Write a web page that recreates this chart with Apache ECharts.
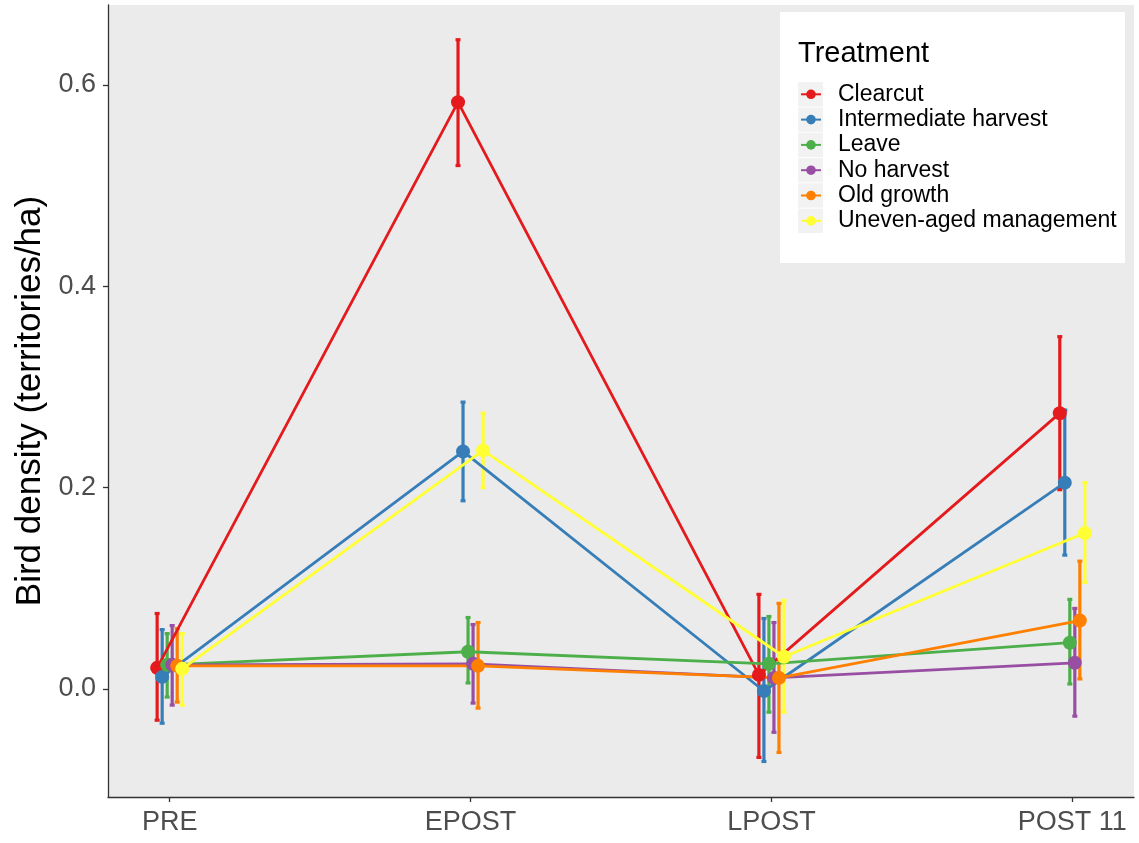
<!DOCTYPE html>
<html><head><meta charset="utf-8">
<script src="https://cdn.jsdelivr.net/npm/echarts@6/dist/echarts.min.js"></script>
<style>html,body{margin:0;padding:0;background:#fff}#c{width:1139px;height:843px}</style>
</head><body><div id="c"></div>
<script>
const periods = ['PRE', 'EPOST', 'LPOST', 'POST 11'];
const treatments = ['Clearcut', 'Intermediate harvest', 'Leave', 'No harvest', 'Old growth', 'Uneven-aged management'];
const colors = ['#E41A1C', '#377EB8', '#4DAF4A', '#984EA3', '#FF7F00', '#FFFF33'];
const yTicks = [0, 0.2, 0.4, 0.6];

const clearcutMean = [0.021, 0.583, 0.014, 0.274];
const clearcutLow  = [-0.031, 0.520, -0.068, 0.198];
const clearcutHigh = [0.075, 0.645, 0.094, 0.350];

const intermediateMean = [0.012, 0.236, -0.002, 0.205];
const intermediateLow  = [-0.034, 0.187, -0.072, 0.133];
const intermediateHigh = [0.059, 0.285, 0.070, 0.277];

const leaveMean = [0.024, 0.037, 0.025, 0.046];
const leaveLow  = [-0.008, 0.006, -0.023, 0.005];
const leaveHigh = [0.055, 0.071, 0.072, 0.089];

const noHarvestMean = [0.024, 0.025, 0.011, 0.026];
const noHarvestLow  = [-0.016, -0.014, -0.043, -0.027];
const noHarvestHigh = [0.063, 0.064, 0.066, 0.080];

const oldGrowthMean = [0.023, 0.023, 0.011, 0.068];
const oldGrowthLow  = [-0.013, -0.019, -0.063, 0.010];
const oldGrowthHigh = [0.060, 0.066, 0.085, 0.127];

const unevenMean = [0.020, 0.237, 0.032, 0.155];
const unevenLow  = [-0.016, 0.200, -0.023, 0.106];
const unevenHigh = [0.055, 0.274, 0.088, 0.205];

const means = [clearcutMean, intermediateMean, leaveMean, noHarvestMean, oldGrowthMean, unevenMean];
const lows  = [clearcutLow, intermediateLow, leaveLow, noHarvestLow, oldGrowthLow, unevenLow];
const highs = [clearcutHigh, intermediateHigh, leaveHigh, noHarvestHigh, oldGrowthHigh, unevenHigh];

const FONT = '"Liberation Sans", Arial, sans-serif';
const dodgeWidth = 0.1;
const n = treatments.length;
const offset = i => (i - (n - 1) / 2) * dodgeWidth / n;

const series = [];
treatments.forEach((t, i) => {
  const col = colors[i];
  series.push({
    type: 'custom',
    name: t + ' error',
    z: 2,
    silent: true,
    encode: { x: 0, y: [1, 2] },
    data: periods.map((p, k) => [k + 1 + offset(i), lows[i][k], highs[i][k]]),
    renderItem: (params, api) => {
      const x = api.value(0);
      const a = api.coord([x, api.value(1)]);
      const b = api.coord([x, api.value(2)]);
      const c = 2.5;
      const st = { stroke: col, lineWidth: 3.2 };
      return { type: 'group', children: [
        { type: 'line', shape: { x1: a[0], y1: a[1], x2: b[0], y2: b[1] }, style: st },
        { type: 'line', shape: { x1: a[0] - c, y1: a[1], x2: a[0] + c, y2: a[1] }, style: st },
        { type: 'line', shape: { x1: b[0] - c, y1: b[1], x2: b[0] + c, y2: b[1] }, style: st }
      ]};
    }
  });
});
treatments.forEach((t, i) => {
  series.push({
    type: 'line',
    name: t,
    z: 3,
    color: colors[i],
    symbol: 'circle',
    symbolSize: 14,
    showSymbol: true,
    lineStyle: { width: 2.8, color: colors[i] },
    itemStyle: { color: colors[i] },
    emphasis: { disabled: true },
    data: periods.map((p, k) => [k + 1 + offset(i), means[i][k]])
  });
});

const rowStart = 94.3, rowStep = 25.3;
const graphics = [
  { type: 'rect', z: 3, z2: 0, shape: { x: 780, y: 12, width: 345, height: 251 }, style: { fill: '#FFFFFF' } },
  { type: 'text', z: 4, x: 798, y: 53.5, style: { text: 'Treatment', font: '29px ' + FONT, fill: '#000', textVerticalAlign: 'middle' } }
];
treatments.forEach((t, i) => {
  graphics.push({ type: 'rect', z: 3, z2: 1,
    shape: { x: 798, y: rowStart + rowStep * i - 12.2, width: 25, height: 24.4 },
    style: { fill: '#F2F2F2' } });
});

const chart = echarts.init(document.getElementById('c'), null, { renderer: 'canvas' });
chart.setOption({
  animation: false,
  backgroundColor: '#FFFFFF',
  grid: { left: 108, right: 5, top: 5, bottom: 46, show: true, backgroundColor: '#EBEBEB', borderWidth: 0 },
  xAxis: {
    type: 'value', min: 0.795, max: 4.205,
    axisLine: { show: true, onZero: false, lineStyle: { color: '#333333', width: 1.3 } },
    axisTick: { show: true, customValues: [1, 2, 3, 4], length: 5, lineStyle: { color: '#333333', width: 1.3 } },
    axisLabel: { customValues: [1, 2, 3, 4], formatter: v => periods[Math.round(v) - 1], fontSize: 27, fontFamily: FONT, color: '#4D4D4D', margin: 12 },
    splitLine: { show: false }
  },
  yAxis: {
    type: 'value', min: -0.1073, max: 0.6795,
    name: 'Bird density (territories/ha)', nameLocation: 'middle', nameGap: 60,
    nameTextStyle: { fontSize: 35, fontFamily: FONT, color: '#000000' },
    axisLine: { show: true, onZero: false, lineStyle: { color: '#333333', width: 1.3 } },
    axisTick: { show: true, customValues: yTicks, length: 5, lineStyle: { color: '#333333', width: 1.3 } },
    axisLabel: { customValues: yTicks, formatter: v => v.toFixed(1), fontSize: 27, fontFamily: FONT, color: '#4D4D4D', margin: 12 },
    splitLine: { show: false }
  },
  legend: {
    data: treatments, orient: 'vertical', left: 800, top: rowStart - rowStep / 2,
    padding: 0, itemGap: 0, itemWidth: 20, itemHeight: 12, selectedMode: false,
    textStyle: { fontSize: 23, fontFamily: FONT, color: '#000000', lineHeight: rowStep, padding: [0, 0, 0, 12] }
  },
  graphic: graphics,
  series: series
});
</script></body></html>
